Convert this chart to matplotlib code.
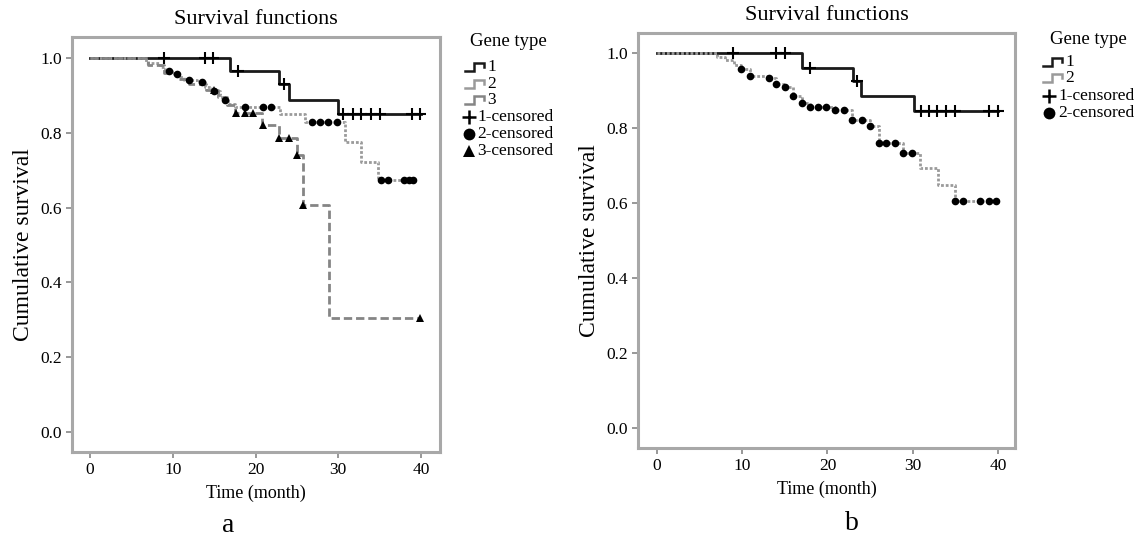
import numpy as np
import matplotlib
matplotlib.use('Agg')
import matplotlib.pyplot as plt

plt.rcParams['font.family'] = ['Liberation Serif', 'DejaVu Serif']

# ---- panel a data (Kaplan-Meier steps: time, survival after the step) ----
a1_t = [0, 16.9, 22.9, 24.0, 30.0]
a1_s = [1.0, 0.966, 0.930, 0.888, 0.850]
a1_end = 40.0
a1_cens = [8.9, 13.9, 14.9, 17.9, 23.5, 30.6, 31.8, 32.8, 34.0, 35.0, 38.9, 39.9]

a2_t = [0, 6.8, 8.4, 9.1, 9.9, 10.7, 11.3, 12.9, 13.9, 14.7, 15.7, 16.0, 16.7, 17.5,
        23.0, 26.0, 30.8, 32.8, 34.8]
a2_s = [1.0, 0.986, 0.975, 0.966, 0.957, 0.948, 0.940, 0.935, 0.923, 0.913, 0.900,
        0.888, 0.876, 0.869, 0.850, 0.830, 0.776, 0.723, 0.674]
a2_end = 39.0
a2_cens = [9.5, 10.5, 12.0, 13.5, 15.0, 16.3, 18.7, 20.9, 21.9, 26.8, 27.8, 28.8,
           29.8, 35.2, 36.0, 37.9, 38.5, 39.0]

a3_t = [0, 7.0, 9.0, 10.5, 12.0, 14.0, 15.5, 16.5, 17.5, 20.8, 22.9, 25.0, 25.8, 28.9]
a3_s = [1.0, 0.980, 0.960, 0.945, 0.930, 0.915, 0.895, 0.875, 0.852, 0.821, 0.785,
        0.741, 0.607, 0.305]
a3_end = 39.9
a3_cens = [15.0, 17.7, 18.7, 19.7, 20.9, 22.9, 24.0, 25.0, 25.8, 39.9]

# ---- panel b data ----
b1_t = [0, 17.0, 23.0, 23.9, 30.1]
b1_s = [1.0, 0.961, 0.925, 0.886, 0.845]
b1_end = 40.0
b1_cens = [8.95, 14.0, 15.0, 17.9, 23.5, 31.0, 31.9, 32.9, 33.9, 35.0, 39.0, 40.0]

b2_t = [0, 7.0, 8.0, 9.0, 9.9, 10.9, 13.1, 14.0, 15.0, 16.0, 17.0, 17.9, 20.9, 22.9,
        25.0, 26.0, 28.9, 30.9, 33.0, 35.0]
b2_s = [1.0, 0.990, 0.980, 0.968, 0.957, 0.939, 0.934, 0.916, 0.910, 0.884, 0.866,
        0.857, 0.848, 0.821, 0.805, 0.761, 0.734, 0.692, 0.648, 0.606]
b2_end = 39.8
b2_cens = [9.9, 10.9, 13.1, 14.0, 15.0, 16.0, 17.0, 17.9, 18.9, 19.8, 20.9, 21.9,
           22.9, 24.0, 25.0, 26.0, 26.9, 27.9, 28.9, 29.9, 35.0, 35.9, 37.9, 38.9, 39.8]

x_ticks = [0, 10, 20, 30, 40]
y_ticks = [0.0, 0.2, 0.4, 0.6, 0.8, 1.0]

line_styles = {
    '1': dict(color='#1a1a1a', lw=2.0, ls='-'),
    '2': dict(color='#9a9a9a', lw=2.0, ls=(0, (1, 0.7))),
    '3': dict(color='#858585', lw=2.0, ls=(0, (3, 1.4))),
}
cens_styles = {
    '1': dict(marker='+', ms=8, mew=1.5),
    '2': dict(marker='o', ms=5.5, mew=0),
    '3': dict(marker='^', ms=6, mew=0),
}
legend_marker_size = {'1': 10, '2': 8.5, '3': 8}


def draw_km(ax, t, s, t_end, cens, key):
    tt = list(t) + [t_end]
    ss = list(s) + [s[-1]]
    ax.step(tt, ss, where='post', zorder=2, **line_styles[key])
    idx = np.searchsorted(t, cens, side='right') - 1
    cy = np.array(s)[idx]
    ax.plot(cens, cy, ls='none', color='black', zorder=3, **cens_styles[key])


def style_axes(ax, xlim, ylim):
    ax.set_xlim(*xlim)
    ax.set_ylim(*ylim)
    ax.set_xticks(x_ticks)
    ax.set_yticks(y_ticks)
    ax.set_yticklabels([f'{v:.1f}' for v in y_ticks])
    for sp in ax.spines.values():
        sp.set_color('#a8a8a8')
        sp.set_linewidth(2.2)
    ax.tick_params(direction='out', length=4, width=1.3, color='#909090',
                   labelsize=12.5, pad=3)
    ax.set_title('Survival functions', fontsize=16, pad=9)
    ax.set_ylabel('Cumulative survival', fontsize=17, labelpad=5)
    ax.set_xlabel('Time (month)', fontsize=13, labelpad=5)


fig = plt.figure(figsize=(11.48, 5.38), dpi=100)

# panel a
ax_a = fig.add_axes([72 / 1148, 1 - 452 / 538, (440 - 72) / 1148, (452 - 37) / 538])
draw_km(ax_a, a1_t, a1_s, a1_end, a1_cens, '1')
draw_km(ax_a, a2_t, a2_s, a2_end, a2_cens, '2')
draw_km(ax_a, a3_t, a3_s, a3_end, a3_cens, '3')
style_axes(ax_a, (-2.18, 42.3), (-0.053, 1.056))

# panel b
ax_b = fig.add_axes([638 / 1148, 1 - 448 / 538, (1015 - 638) / 1148, (448 - 33) / 538])
draw_km(ax_b, b1_t, b1_s, b1_end, b1_cens, '1')
draw_km(ax_b, b2_t, b2_s, b2_end, b2_cens, '2')
style_axes(ax_b, (-2.23, 42.0), (-0.053, 1.053))

# legends drawn on an overlay in pixel units
ov = fig.add_axes([0, 0, 1, 1], zorder=5)
ov.set_xlim(0, 1148)
ov.set_ylim(538, 0)
ov.axis('off')


def step_icon(x0, y, key, w=19, h=8):
    st = dict(line_styles[key])
    st['ls'] = '-'
    st['lw'] = 1.8
    xm = x0 + w * 0.45
    ov.plot([x0, xm, xm, x0 + w, x0 + w], [y + h / 2, y + h / 2, y - h / 2, y - h / 2, y],
            solid_joinstyle='miter', **st)


def draw_legend(keys, x, y_title, rows_step, rows_cens, icon_x, cens_x, text_cx):
    ov.text(x, y_title, 'Gene type', fontsize=13.5, ha='left', va='center')
    for k, yy in zip(keys, rows_step):
        step_icon(icon_x, yy, k)
        ov.text(icon_x + 22, yy, k, fontsize=12.5, ha='left', va='center')
    for k, yy in zip(keys, rows_cens):
        st = dict(cens_styles[k])
        st['ms'] = legend_marker_size[k]
        if k == '1':
            st['mew'] = 1.8
        ov.plot([cens_x], [yy], ls='none', color='black', **st)
        ov.text(text_cx, yy, f'{k}-censored', fontsize=12.5, ha='left', va='center')


draw_legend(['1', '2', '3'], 470, 42, [67, 84, 100], [117, 134, 151], 465, 469, 477)
draw_legend(['1', '2'], 1050, 40, [62, 78], [96, 113], 1043, 1049, 1058)

fig.text(228 / 1148, 1 - 525 / 538, 'a', fontsize=20, ha='center', va='center')
fig.text(852 / 1148, 1 - 523 / 538, 'b', fontsize=20, ha='center', va='center')

fig.savefig('out.png', dpi=100)
